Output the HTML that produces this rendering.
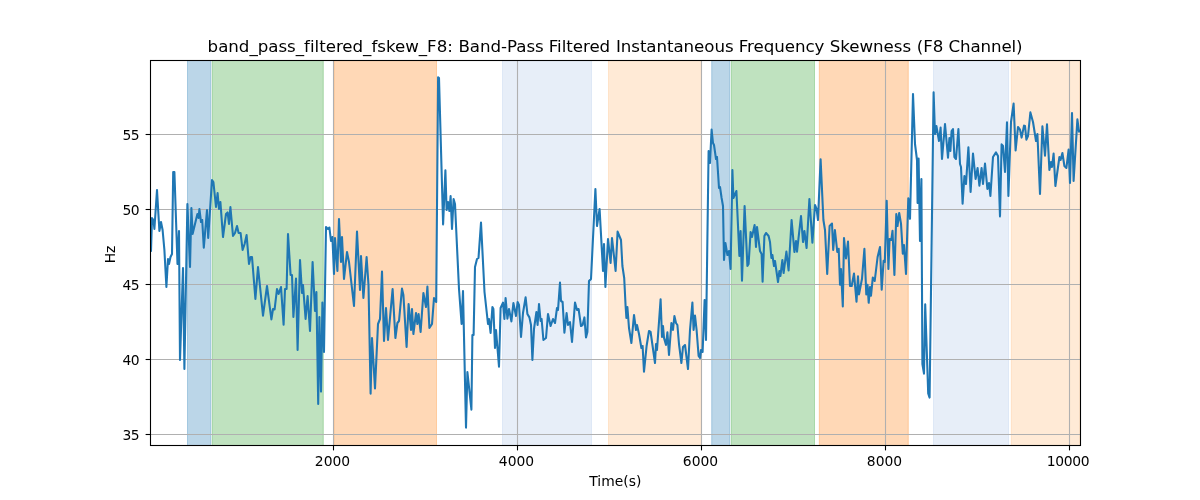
<!DOCTYPE html>
<html lang="en"><head><meta charset="utf-8"><title>band_pass_filtered_fskew_F8</title>
<style>html,body{margin:0;padding:0;background:#fff;}body{width:1200px;height:500px;overflow:hidden;}svg{display:block;}text{font-family:'DejaVu Sans','Liberation Sans',sans-serif;fill:#000;}</style></head><body>
<svg width="1200" height="500" viewBox="0 0 1200 500">
<rect x="0" y="0" width="1200" height="500" fill="#ffffff"/>
<defs><clipPath id="ax"><rect x="150" y="60" width="930.5" height="385.5"/></clipPath></defs>
<g clip-path="url(#ax)">
<rect x="187.5" y="60" width="23.3" height="385.5" fill="#1f77b4" fill-opacity="0.30" stroke="#1f77b4" stroke-opacity="0.30" stroke-width="1"/>
<rect x="212.3" y="60" width="111.0" height="385.5" fill="#2ca02c" fill-opacity="0.30" stroke="#2ca02c" stroke-opacity="0.30" stroke-width="1"/>
<rect x="333.9" y="60" width="102.6" height="385.5" fill="#ff7f0e" fill-opacity="0.30" stroke="#ff7f0e" stroke-opacity="0.30" stroke-width="1"/>
<rect x="502.5" y="60" width="89.0" height="385.5" fill="#aec7e8" fill-opacity="0.30" stroke="#aec7e8" stroke-opacity="0.30" stroke-width="1"/>
<rect x="608.5" y="60" width="92.8" height="385.5" fill="#ffbb78" fill-opacity="0.30" stroke="#ffbb78" stroke-opacity="0.30" stroke-width="1"/>
<rect x="711.7" y="60" width="18.0" height="385.5" fill="#1f77b4" fill-opacity="0.30" stroke="#1f77b4" stroke-opacity="0.30" stroke-width="1"/>
<rect x="731.3" y="60" width="83.2" height="385.5" fill="#2ca02c" fill-opacity="0.30" stroke="#2ca02c" stroke-opacity="0.30" stroke-width="1"/>
<rect x="819.3" y="60" width="89.0" height="385.5" fill="#ff7f0e" fill-opacity="0.30" stroke="#ff7f0e" stroke-opacity="0.30" stroke-width="1"/>
<rect x="933.5" y="60" width="75.0" height="385.5" fill="#aec7e8" fill-opacity="0.30" stroke="#aec7e8" stroke-opacity="0.30" stroke-width="1"/>
<rect x="1011.3" y="60" width="68.7" height="385.5" fill="#ffbb78" fill-opacity="0.30" stroke="#ffbb78" stroke-opacity="0.30" stroke-width="1"/>
</g>
<g stroke="#b0b0b0" stroke-width="1.1" fill="none">
<line x1="333.5" y1="60.5" x2="333.5" y2="445.5"/>
<line x1="517.5" y1="60.5" x2="517.5" y2="445.5"/>
<line x1="701.5" y1="60.5" x2="701.5" y2="445.5"/>
<line x1="885.5" y1="60.5" x2="885.5" y2="445.5"/>
<line x1="1069.5" y1="60.5" x2="1069.5" y2="445.5"/>
<line x1="150.5" y1="134.5" x2="1080.5" y2="134.5"/>
<line x1="150.5" y1="209.5" x2="1080.5" y2="209.5"/>
<line x1="150.5" y1="284.5" x2="1080.5" y2="284.5"/>
<line x1="150.5" y1="359.5" x2="1080.5" y2="359.5"/>
<line x1="150.5" y1="434.5" x2="1080.5" y2="434.5"/>
</g>
<g stroke="#000" stroke-width="1.1" fill="none">
<line x1="333.5" y1="445.5" x2="333.5" y2="450.4"/>
<line x1="517.5" y1="445.5" x2="517.5" y2="450.4"/>
<line x1="701.5" y1="445.5" x2="701.5" y2="450.4"/>
<line x1="885.5" y1="445.5" x2="885.5" y2="450.4"/>
<line x1="1069.5" y1="445.5" x2="1069.5" y2="450.4"/>
<line x1="145.6" y1="134.5" x2="150.5" y2="134.5"/>
<line x1="145.6" y1="209.5" x2="150.5" y2="209.5"/>
<line x1="145.6" y1="284.5" x2="150.5" y2="284.5"/>
<line x1="145.6" y1="359.5" x2="150.5" y2="359.5"/>
<line x1="145.6" y1="434.5" x2="150.5" y2="434.5"/>
</g>
<g clip-path="url(#ax)"><path d="M150.5 249.0 L151.0 251.0 L152.0 218.0 L153.4 220.0 L154.4 229.0 L157.0 190.0 L159.4 231.0 L161.0 222.0 L162.6 230.0 L164.4 250.0 L166.4 287.0 L168.0 259.0 L169.0 264.0 L170.5 257.0 L172.0 254.0 L173.2 172.0 L174.4 172.0 L177.5 264.0 L179.0 231.0 L180.0 360.0 L183.0 268.0 L184.4 369.0 L187.4 204.0 L190.0 267.0 L191.4 208.0 L192.6 234.0 L197.4 214.0 L198.6 218.0 L199.4 209.0 L201.0 222.0 L202.2 220.0 L203.8 247.6 L207.0 210.0 L208.2 238.0 L212.0 180.0 L213.4 182.0 L216.0 207.0 L217.6 193.0 L219.0 209.0 L220.4 202.0 L223.0 237.0 L226.0 214.0 L227.6 212.4 L229.0 224.0 L230.4 207.0 L233.0 236.0 L235.0 233.0 L237.0 226.0 L238.6 233.0 L240.6 233.0 L242.6 250.0 L244.6 244.0 L246.6 235.0 L249.0 264.0 L250.6 257.0 L252.0 257.0 L255.4 299.0 L258.0 267.0 L263.0 315.6 L267.0 286.0 L271.4 319.4 L273.0 309.0 L274.6 309.4 L277.0 289.0 L278.6 294.0 L281.0 287.0 L283.6 324.6 L285.0 289.0 L286.6 289.0 L288.0 234.0 L290.6 275.0 L292.0 275.0 L293.4 317.0 L296.0 278.6 L297.6 350.0 L300.0 260.0 L302.0 293.0 L303.0 285.0 L305.6 319.0 L307.6 296.0 L310.0 331.0 L312.6 262.0 L315.0 311.0 L316.4 292.0 L318.2 404.0 L319.4 317.0 L321.0 391.6 L322.4 302.6 L324.0 352.0 L326.0 227.0 L328.0 229.0 L329.4 227.6 L331.0 241.0 L332.4 237.0 L334.0 274.0 L335.0 238.0 L337.4 271.0 L339.0 219.0 L341.0 262.0 L342.0 237.0 L344.0 279.0 L347.0 252.0 L349.0 262.0 L354.0 306.0 L357.0 231.6 L360.0 290.0 L361.0 256.0 L363.4 298.0 L366.6 257.0 L368.5 285.0 L370.6 393.6 L372.0 338.0 L375.0 388.4 L378.0 324.0 L380.0 319.0 L382.0 271.6 L384.0 341.0 L386.0 308.0 L388.0 340.0 L392.6 289.0 L395.4 338.0 L397.4 323.0 L399.0 321.0 L402.0 288.6 L403.4 295.0 L406.6 347.0 L408.6 304.0 L411.0 330.0 L412.0 309.0 L413.4 334.0 L416.0 313.0 L417.4 324.0 L418.6 314.0 L420.6 332.0 L423.4 293.0 L426.0 307.0 L427.4 286.6 L429.4 328.0 L432.0 324.0 L434.0 298.0 L436.2 302.0 L438.1 77.2 L439.0 78.0 L443.1 224.4 L445.4 170.4 L446.6 210.0 L448.0 202.0 L449.4 211.0 L450.6 196.0 L452.0 229.0 L453.6 199.0 L455.0 204.0 L459.0 289.0 L461.6 324.0 L463.0 291.0 L466.0 427.6 L467.4 372.0 L471.4 409.6 L472.4 335.0 L473.6 335.0 L475.0 267.0 L477.0 259.0 L478.5 258.0 L481.0 222.6 L484.5 292.0 L488.0 324.0 L489.0 319.0 L490.6 333.0 L492.4 307.0 L493.4 309.0 L495.0 348.0 L496.0 330.0 L499.0 366.6 L500.6 308.0 L503.0 302.6 L504.4 319.0 L505.6 298.0 L507.4 318.6 L509.0 309.0 L511.4 321.4 L513.4 303.0 L516.0 316.0 L517.6 302.0 L519.0 305.0 L521.0 337.0 L523.0 313.0 L525.6 297.4 L527.4 314.0 L529.4 317.4 L531.0 325.0 L532.4 360.0 L534.0 329.0 L536.4 312.0 L537.6 325.0 L539.0 304.0 L540.6 321.0 L541.6 319.0 L543.4 340.0 L546.0 338.0 L548.0 314.0 L550.6 326.0 L553.0 319.0 L555.0 323.0 L557.0 308.0 L558.0 310.0 L560.0 282.6 L561.0 301.0 L562.6 302.0 L564.4 332.6 L566.6 313.0 L568.0 325.0 L570.0 322.0 L572.0 342.0 L575.0 302.6 L577.0 310.0 L578.6 309.0 L581.0 326.0 L582.6 325.0 L584.4 317.4 L586.0 337.4 L587.4 332.0 L589.0 281.0 L591.0 279.0 L595.4 189.0 L597.0 226.0 L599.6 209.0 L603.0 271.0 L604.0 244.0 L605.4 287.0 L608.0 239.0 L610.6 263.0 L612.0 238.0 L615.6 271.0 L617.6 231.6 L621.0 240.0 L622.4 266.0 L624.2 278.0 L625.6 306.0 L626.4 318.0 L627.4 307.0 L629.0 328.0 L631.4 343.0 L634.0 315.0 L636.0 330.0 L637.0 325.0 L639.0 334.0 L641.4 348.0 L642.6 346.0 L644.0 371.6 L646.6 346.0 L649.0 331.0 L650.6 332.0 L655.0 363.0 L656.0 344.0 L657.0 350.0 L660.6 299.4 L662.0 337.0 L663.0 326.0 L664.0 338.0 L666.0 345.0 L667.4 332.4 L669.0 355.0 L671.4 323.0 L673.0 330.0 L674.4 316.0 L676.0 323.0 L677.4 325.0 L679.0 344.0 L681.4 363.0 L683.0 347.0 L685.0 345.0 L688.0 369.0 L690.0 330.0 L692.4 302.6 L693.6 330.0 L695.0 315.6 L696.6 330.0 L698.6 356.0 L700.0 358.0 L701.0 350.0 L702.6 352.0 L704.6 300.0 L706.0 340.0 L708.6 151.0 L710.0 163.0 L711.6 129.6 L713.0 143.0 L714.0 145.0 L716.0 159.0 L717.0 157.0 L719.0 188.0 L720.0 187.0 L721.6 198.0 L723.0 206.0 L724.0 260.0 L725.4 243.0 L727.4 255.0 L729.0 251.0 L730.6 269.0 L732.4 170.0 L733.4 198.0 L736.4 191.0 L739.4 256.0 L740.6 231.0 L742.0 280.6 L744.6 206.0 L747.4 266.0 L748.6 264.0 L750.6 232.0 L752.0 237.0 L754.6 225.0 L756.0 247.0 L757.0 227.0 L760.0 251.0 L761.6 254.0 L762.6 281.6 L764.4 236.0 L766.0 233.0 L768.6 236.0 L770.0 242.0 L771.4 258.0 L772.4 255.0 L774.0 266.0 L775.0 261.0 L778.0 282.0 L779.4 271.0 L780.4 276.0 L782.4 260.0 L783.6 273.0 L786.4 251.6 L788.6 270.4 L791.6 220.0 L794.4 252.0 L796.0 241.0 L797.0 251.6 L801.0 216.0 L803.0 242.0 L804.4 231.0 L806.6 248.0 L809.4 199.0 L812.4 242.6 L815.0 205.0 L816.6 209.0 L818.0 220.0 L820.6 159.4 L823.4 220.0 L825.0 230.0 L827.2 274.0 L829.6 226.0 L832.0 223.6 L833.2 250.0 L834.9 230.0 L837.3 252.0 L838.7 248.8 L840.0 284.8 L841.0 269.0 L842.8 306.4 L844.0 238.0 L846.0 258.4 L848.0 241.6 L850.0 286.0 L851.7 286.0 L854.0 273.5 L856.5 301.6 L858.0 276.4 L859.0 294.4 L862.0 278.8 L864.4 248.8 L866.3 294.4 L867.5 284.8 L868.7 302.8 L870.0 287.0 L871.0 295.6 L872.8 277.6 L874.7 281.0 L877.6 257.0 L880.0 247.0 L881.7 289.6 L883.6 260.8 L884.8 262.0 L886.7 200.8 L888.4 269.0 L889.6 239.0 L891.3 240.0 L892.5 230.8 L894.4 275.0 L896.3 214.0 L897.5 226.0 L899.2 213.0 L901.0 223.6 L902.8 253.6 L904.0 245.0 L906.0 274.0 L908.3 198.4 L910.0 218.8 L913.0 94.0 L915.0 144.0 L917.0 160.0 L917.6 203.0 L918.6 158.6 L920.0 241.0 L921.4 179.0 L922.4 364.0 L924.0 373.6 L925.2 304.4 L928.2 393.5 L929.6 397.6 L933.6 92.4 L935.0 134.0 L936.4 126.0 L939.0 141.0 L940.6 127.6 L942.0 159.0 L945.0 124.0 L948.0 157.6 L949.4 138.0 L950.4 151.0 L951.6 131.0 L953.0 129.0 L954.4 157.0 L956.0 159.0 L958.4 129.0 L960.0 164.0 L961.0 167.0 L962.6 203.6 L964.4 176.0 L966.0 184.0 L968.4 147.4 L970.6 192.0 L973.0 153.6 L975.6 179.0 L977.6 168.0 L979.4 185.6 L981.6 168.0 L983.0 184.0 L985.0 163.6 L987.4 189.0 L989.0 183.0 L990.4 196.0 L993.0 157.0 L996.0 152.4 L998.0 156.0 L1000.0 216.4 L1001.6 144.4 L1003.0 146.0 L1005.0 172.0 L1007.0 122.4 L1008.4 196.0 L1011.0 122.0 L1013.6 103.6 L1015.6 150.4 L1018.0 127.0 L1020.0 129.6 L1021.6 137.6 L1024.0 125.6 L1025.0 126.0 L1026.4 139.6 L1028.0 136.0 L1030.4 112.4 L1033.0 122.0 L1036.0 141.0 L1037.4 134.0 L1040.0 194.0 L1042.4 126.4 L1045.0 155.6 L1047.0 124.4 L1049.4 170.0 L1051.0 162.0 L1052.0 167.0 L1053.6 153.6 L1055.4 186.0 L1059.4 157.0 L1060.6 160.0 L1062.4 153.0 L1064.4 166.0 L1066.4 168.0 L1068.6 149.6 L1070.0 183.0 L1072.0 113.0 L1073.6 181.0 L1077.4 119.4 L1079.0 131.6 L1080.0 131.0" fill="none" stroke="#1f77b4" stroke-width="2.08" stroke-linejoin="round" stroke-linecap="square"/></g>
<rect x="150.5" y="60.5" width="930" height="385" fill="none" stroke="#000" stroke-width="1.1"/>
<text x="332.5" y="466.2" font-size="13.89" text-anchor="middle">2000</text>
<text x="516.5" y="466.2" font-size="13.89" text-anchor="middle">4000</text>
<text x="700.5" y="466.2" font-size="13.89" text-anchor="middle">6000</text>
<text x="884.5" y="466.2" font-size="13.89" text-anchor="middle">8000</text>
<text x="1068.1" y="466.2" font-size="13.89" text-anchor="middle" letter-spacing="-0.33">10000</text>
<text x="138.75" y="139.6" font-size="13.89" text-anchor="end" letter-spacing="-0.75">55</text>
<text x="138.75" y="214.6" font-size="13.89" text-anchor="end" letter-spacing="-0.75">50</text>
<text x="138.75" y="289.6" font-size="13.89" text-anchor="end" letter-spacing="-0.75">45</text>
<text x="138.75" y="364.6" font-size="13.89" text-anchor="end" letter-spacing="-0.75">40</text>
<text x="138.75" y="439.6" font-size="13.89" text-anchor="end" letter-spacing="-0.75">35</text>
<text x="615.3" y="486.3" font-size="13.89" text-anchor="middle">Time(s)</text>
<text transform="translate(114.6,254.5) rotate(-90)" font-size="13.89" text-anchor="middle">Hz</text>
<text y="51.7" font-size="16.67" xml:space="preserve"><tspan x="207.58" letter-spacing="-0.020">band_pass_filtered_fskew_F8: </tspan><tspan x="458.40" letter-spacing="-0.037">Band-Pass </tspan><tspan x="548.76" letter-spacing="-0.037">Filtered </tspan><tspan x="615.93" letter-spacing="-0.060">Instantaneous </tspan><tspan x="738.70" letter-spacing="-0.037">Frequency </tspan><tspan x="829.67" letter-spacing="-0.030">Skewness </tspan><tspan x="916.80" letter-spacing="-0.037">(F8 </tspan><tspan x="948.62" letter-spacing="-0.140">Channel)</tspan></text>
</svg></body></html>
